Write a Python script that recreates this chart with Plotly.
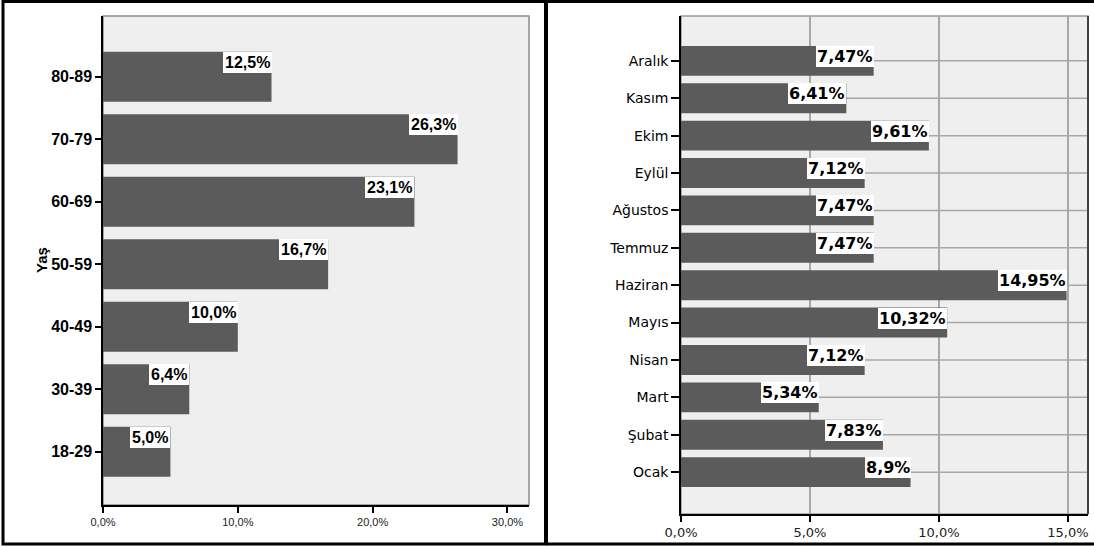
import plotly.graph_objects as go

W, H = 1094, 547

age_groups = ["18-29", "30-39", "40-49", "50-59", "60-69", "70-79", "80-89"]
age_values = [5.0, 6.4, 10.0, 16.7, 23.1, 26.3, 12.5]
age_labels = ["5,0%", "6,4%", "10,0%", "16,7%", "23,1%", "26,3%", "12,5%"]
age_ticks = [0, 10, 20, 30]
age_tick_text = ["0,0%", "10,0%", "20,0%", "30,0%"]

months = ["Ocak", "Şubat", "Mart", "Nisan", "Mayıs", "Haziran",
          "Temmuz", "Ağustos", "Eylül", "Ekim", "Kasım", "Aralık"]
month_values = [8.9, 7.83, 5.34, 7.12, 10.32, 14.95, 7.47, 7.47, 7.12, 9.61, 6.41, 7.47]
month_labels = ["8,9%", "7,83%", "5,34%", "7,12%", "10,32%", "14,95%",
                "7,47%", "7,47%", "7,12%", "9,61%", "6,41%", "7,47%"]
month_ticks = [0, 5, 10, 15]
month_tick_text = ["0,0%", "5,0%", "10,0%", "15,0%"]

BAR = "#5b5b5b"
BG = "#efefef"
ARIAL = "Liberation Sans, Arial, sans-serif"
WIDE = "DejaVu Sans, sans-serif"

def px_x(a, b):
    return [a / W, b / W]

def px_y(top, bottom):
    return [(H - bottom) / H, (H - top) / H]

fig = go.Figure()

# left chart
fig.add_trace(go.Bar(
    y=list(range(len(age_groups))), x=age_values, orientation="h",
    marker=dict(color=BAR, line=dict(width=0)), width=0.8,
    xaxis="x", yaxis="y", hoverinfo="skip", showlegend=False))

# right chart
fig.add_trace(go.Bar(
    y=list(range(len(months))), x=month_values, orientation="h",
    marker=dict(color=BAR, line=dict(width=0)), width=0.8,
    xaxis="x2", yaxis="y2", hoverinfo="skip", showlegend=False))

annotations = []
for i, (v, t) in enumerate(zip(age_values, age_labels)):
    annotations.append(dict(
        x=v, y=i + 0.4, xref="x", yref="y", text="<b>%s</b>" % t,
        showarrow=False, xanchor="right", yanchor="top",
        bgcolor="white", borderpad=2, borderwidth=0,
        font=dict(family=ARIAL, size=16, color="black")))
for i, (v, t) in enumerate(zip(month_values, month_labels)):
    annotations.append(dict(
        x=v, y=i + 0.4, xref="x2", yref="y2", text="<b>%s</b>" % t,
        showarrow=False, xanchor="right", yanchor="top",
        bgcolor="white", borderpad=1, borderwidth=0,
        font=dict(family=WIDE, size=16, color="black")))

annotations.append(dict(
    x=41 / W, y=(H - 260) / H, xref="paper", yref="paper", text="<b>Yaş</b>",
    textangle=-90, showarrow=False, xanchor="center", yanchor="middle",
    font=dict(family=ARIAL, size=15, color="black")))

shapes = [
    # plot frames (gray top/right)
    dict(type="rect", xref="x domain", yref="y domain", x0=0, x1=1, y0=0, y1=1,
         line=dict(color="#8a8a8a", width=1.5), layer="below"),
    dict(type="rect", xref="x2 domain", yref="y2 domain", x0=0, x1=1, y0=0, y1=1,
         line=dict(color="#9a9a9a", width=1.5), layer="below"),
    dict(type="line", xref="x2 domain", yref="y2 domain", x0=1, x1=1, y0=0, y1=1,
         line=dict(color="#404040", width=2)),
    # panel borders
    dict(type="rect", xref="paper", yref="paper",
         x0=3 / W, x1=546 / W, y0=(H - 544) / H, y1=(H - 1.5) / H,
         line=dict(color="black", width=3)),
    dict(type="line", xref="paper", yref="paper",
         x0=546 / W, x1=1094 / W, y0=(H - 1.5) / H, y1=(H - 1.5) / H,
         line=dict(color="black", width=3)),
    dict(type="line", xref="paper", yref="paper",
         x0=546 / W, x1=1094 / W, y0=(H - 544) / H, y1=(H - 544) / H,
         line=dict(color="black", width=3)),
    dict(type="line", xref="paper", yref="paper",
         x0=546 / W, x1=546 / W, y0=(H - 544) / H, y1=(H - 1.5) / H,
         line=dict(color="black", width=4)),
]

# horizontal reference lines in right chart (below bars)
for i in range(len(months)):
    shapes.append(dict(type="line", xref="x2", yref="y2", x0=0, x1=15.78,
                       y0=i, y1=i, line=dict(color="#a8a8a8", width=1.5),
                       layer="below"))

fig.update_layout(
    width=W, height=H,
    margin=dict(l=0, r=0, t=0, b=0, autoexpand=False),
    paper_bgcolor="white",
    plot_bgcolor=BG,
    bargap=0.2,
    annotations=annotations,
    shapes=shapes,
    xaxis=dict(
        domain=px_x(103, 529), range=[0, 31.6], automargin=False,
        tickvals=age_ticks, ticktext=age_tick_text,
        showgrid=False, zeroline=False,
        showline=True, linecolor="black", linewidth=1.5,
        ticks="outside", ticklen=6, tickcolor="black", tickwidth=1.5,
        tickfont=dict(family=ARIAL, size=11, color="#222"),
        anchor="y", fixedrange=True),
    yaxis=dict(
        domain=px_y(16, 505), range=[-0.85, 6.97], automargin=False,
        tickvals=list(range(len(age_groups))), ticktext=age_groups,
        showgrid=False, zeroline=False,
        showline=True, linecolor="black", linewidth=1.5,
        ticks="outside", ticklen=6, tickcolor="black", tickwidth=1.5,
        tickfont=dict(family=ARIAL, size=16, color="black", weight="bold"),
        anchor="x", fixedrange=True),
    xaxis2=dict(
        domain=px_x(681, 1088), range=[0, 15.78], automargin=False,
        tickvals=month_ticks, ticktext=month_tick_text,
        showgrid=True, gridcolor="#a8a8a8", gridwidth=1.5,
        zeroline=False,
        showline=True, linecolor="black", linewidth=1.5,
        ticks="outside", ticklen=6, tickcolor="black", tickwidth=1.5,
        tickfont=dict(family=WIDE, size=13, color="#222"),
        anchor="y2", fixedrange=True),
    yaxis2=dict(
        domain=px_y(16, 514), range=[-1.12, 12.2], automargin=False,
        tickvals=list(range(len(months))), ticktext=months,
        showgrid=False, zeroline=False,
        showline=True, linecolor="black", linewidth=1.5,
        ticks="outside", ticklen=8, tickcolor="black", tickwidth=1.5,
        tickfont=dict(family=WIDE, size=14, color="black"),
        anchor="x2", fixedrange=True),
)

fig.write_html("out.html", config={"displayModeBar": False})
